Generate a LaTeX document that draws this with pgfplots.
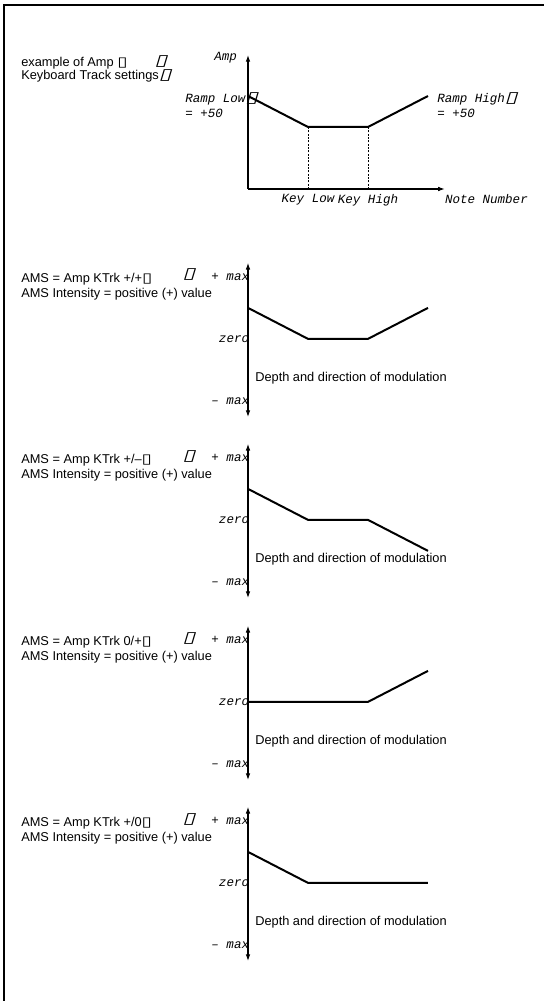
\documentclass[border=0pt]{standalone}
\usepackage{fontspec}
\setmainfont{Liberation Sans}
\newfontfamily\monofam{Liberation Mono}
\newfontfamily\djwfam[FakeStretch=1.4]{DejaVu Sans}
\newfontfamily\djsfam[FakeSlant=0.3,FakeStretch=1.5]{DejaVu Sans}
\usepackage{pgfplots}
\pgfplotsset{compat=1.18}
\usetikzlibrary{arrows.meta}
\newcommand\mi{\fontsize{9.4}{11}\selectfont\monofam\itshape}
\newcommand\sx{\fontsize{9.6}{11}\selectfont}
\newcommand\bx{{\djwfam\fontsize{10}{10}\selectfont ▯}}
\newcommand\pbox{{\djsfam\fontsize{11.5}{11}\selectfont ▯}}
\tikzset{txt/.style={anchor=west, inner sep=0pt, font=\sx}}
\pgfplotsset{
  modchart/.style={
    x=45pt, y=46.5pt, xmin=0, xmax=3.3, ymin=-1.26, ymax=1.226,
    axis x line=none, axis y line=left,
    y axis line style={line width=0.8pt, {Latex[length=5pt,width=3.5pt]}-{Latex[length=5pt,width=3.5pt]}},
    xtick=\empty, ytick={-1,0,1}, yticklabels={– max, zero, + max},
    yticklabel style={font=\mi, inner sep=0pt, xshift=1pt},
    major tick length=0pt, clip=false, enlargelimits=false,
    anchor=south west,
  },
}
\newcommand\chartlabels[1]{%
  \node[txt] at (axis cs:-3.783,0.968) {AMS = Amp KTrk #1\bx};
  \node[txt] at (axis cs:-3.783,0.726) {AMS Intensity = positive (+) value};
  \node[txt] at (axis cs:0.117,-0.629) {Depth and direction of modulation};
  \node[inner sep=0pt] at (axis cs:-0.983,1.03) {\pbox};
}
\begin{document}
\begin{tikzpicture}
\useasboundingbox (0,0) rectangle (408pt,750.75pt);
\draw[line width=0.9pt] (3pt,0) -- (3pt,747pt) -- (408pt,747pt);

% Top chart
\begin{axis}[
  x=45pt, y=23.25pt, xmin=0, xmax=3.28, ymin=0, ymax=4.32,
  axis lines=left,
  axis line style={line width=0.8pt, -{Latex[length=5pt,width=3.5pt]}},
  xtick={1,2}, xticklabels={Key Low, Key High}, ytick=\empty,
  xticklabel style={font=\mi, inner sep=0pt, yshift=-4pt},
  major tick length=0pt, clip=false, enlargelimits=false,
  anchor=south west, at={(186pt,609pt)}]
\addplot[line width=0.5pt, dash pattern=on 1.5pt off 1pt] coordinates {(1,0)(1,2)};
\addplot[line width=0.5pt, dash pattern=on 1.5pt off 1pt] coordinates {(2,0)(2,2)};
\addplot[line width=1.5pt, black] coordinates {(0,3)(1,2)(2,2)(3,3)};
\node[anchor=east, inner sep=0pt, font=\mi] at (axis cs:-0.18,4.25) {Amp};
\node[anchor=west, inner sep=0pt, font=\mi] at (axis cs:3.28,-0.32) {Note Number};
\node[anchor=west, inner sep=0pt, font=\mi] at (axis cs:-1.05,2.9) {Ramp Low\pbox};
\node[anchor=west, inner sep=0pt, font=\mi] at (axis cs:-1.05,2.45) {= +50};
\node[anchor=west, inner sep=0pt, font=\mi] at (axis cs:3.15,2.9) {Ramp High\pbox};
\node[anchor=west, inner sep=0pt, font=\mi] at (axis cs:3.15,2.45) {= +50};
\node[txt] at (axis cs:-3.783,4.06) {example of Amp \bx};
\node[txt] at (axis cs:-3.783,3.65) {Keyboard Track settings\pbox};
\node[inner sep=0pt] at (axis cs:-1.45,4.1) {\pbox};
\end{axis}

% Chart 2
\begin{axis}[modchart, at={(186pt,438pt)}]
\addplot[line width=1.5pt, black] coordinates {(0,0.5)(1,0)(2,0)(3,0.5)};
\chartlabels{+/+}
\end{axis}

% Chart 3
\begin{axis}[modchart, at={(186pt,302.25pt)}]
\addplot[line width=1.5pt, black] coordinates {(0,0.5)(1,0)(2,0)(3,-0.5)};
\chartlabels{+/–}
\end{axis}

% Chart 4
\begin{axis}[modchart, at={(186pt,165.75pt)}]
\addplot[line width=1.5pt, black] coordinates {(0,0)(2,0)(3,0.5)};
\chartlabels{0/+}
\end{axis}

% Chart 5
\begin{axis}[modchart, at={(186pt,30pt)}]
\addplot[line width=1.5pt, black] coordinates {(0,0.5)(1,0)(3,0)};
\chartlabels{+/0}
\end{axis}
\end{tikzpicture}
\end{document}
